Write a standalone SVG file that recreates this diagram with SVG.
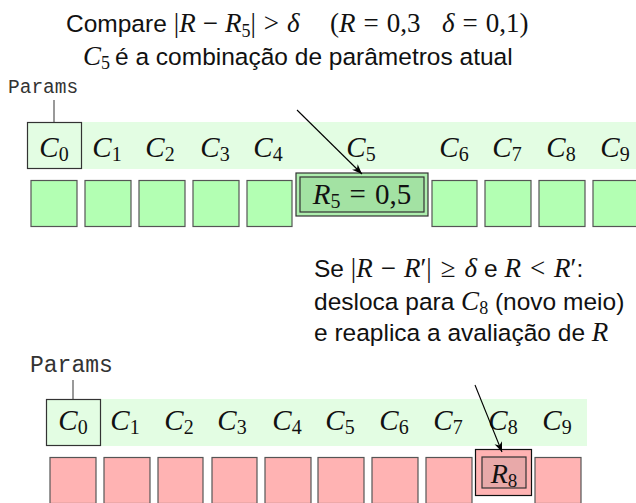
<svg xmlns="http://www.w3.org/2000/svg" width="636" height="503" viewBox="0 0 636 503">
<defs>
<style>
text{white-space:pre}
.sans{font-family:"Liberation Sans",Arial,sans-serif;font-size:24.5px;fill:#111}
.m{font-family:"Liberation Serif","Times New Roman",serif;font-size:27px;fill:#111}
.mi{font-family:"Liberation Serif","Times New Roman",serif;font-size:27px;font-style:italic;fill:#111}
.sub{font-family:"Liberation Serif","Times New Roman",serif;font-size:18px;fill:#111}
.mono{font-family:"Liberation Mono","Courier New",monospace;font-size:19.5px;fill:#333}
.cl{font-family:"Liberation Serif","Times New Roman",serif;font-size:29px;font-style:italic;fill:#111;text-anchor:middle}
.cl tspan.s{font-size:20px;font-style:normal}
.band{fill:#e3fde3}
.cbox{fill:#e3fde3;stroke:#333;stroke-width:1.2}
.gsq{fill:#b3ffb3;stroke:#555;stroke-width:1.2}
.rsq{fill:#ffb3b3;stroke:#555;stroke-width:1.2}
.tick{stroke:#555;stroke-width:1.2}
.conn{stroke:#000;stroke-width:1.1;fill:none;marker-end:url(#arr)}
</style>
<marker id="arr" markerWidth="12" markerHeight="10" refX="10" refY="4" orient="auto" markerUnits="userSpaceOnUse">
<path d="M0,0 L10,4 L0,8 L3,4 z" fill="#000"/>
</marker>
</defs>

<g id="title">
<text y="32"><tspan class="sans" x="66">Compare</tspan><tspan class="m" dx="7">|</tspan><tspan class="mi">R</tspan><tspan class="m" dx="7">−</tspan><tspan class="mi" dx="7">R</tspan><tspan class="sub" dy="5">5</tspan><tspan class="m" dy="-5">|</tspan><tspan class="m" dx="8">&gt;</tspan><tspan class="mi" dx="8">δ</tspan><tspan class="m" x="330">(</tspan><tspan class="mi">R</tspan><tspan class="m" dx="8">=</tspan><tspan class="m" dx="8">0,3</tspan><tspan class="mi" x="442">δ</tspan><tspan class="m" dx="8">=</tspan><tspan class="m" dx="8">0,1)</tspan></text>
<text y="65"><tspan class="mi" x="83">C</tspan><tspan class="sub" dy="4">5</tspan><tspan class="sans" x="115" dy="-4">é a combinação de parâmetros atual</tspan></text>
</g>

<g id="top-row">
<text class="mono" x="8" y="93">Params</text>
<line class="tick" x1="54" y1="100" x2="54" y2="122"/>
<rect class="band" x="27" y="122" width="609" height="47"/>
<g id="top-c0"><rect class="cbox" x="27.5" y="122.5" width="54" height="46"/><text class="cl" x="54" y="157">C<tspan class="s" dy="4">0</tspan></text></g>
<g id="top-c1"><text class="cl" x="107" y="157">C<tspan class="s" dy="4">1</tspan></text></g>
<g id="top-c2"><text class="cl" x="160" y="157">C<tspan class="s" dy="4">2</tspan></text></g>
<g id="top-c3"><text class="cl" x="215" y="157">C<tspan class="s" dy="4">3</tspan></text></g>
<g id="top-c4"><text class="cl" x="268" y="157">C<tspan class="s" dy="4">4</tspan></text></g>
<g id="top-c5"><text class="cl" x="361" y="157">C<tspan class="s" dy="4">5</tspan></text></g>
<g id="top-c6"><text class="cl" x="454" y="157">C<tspan class="s" dy="4">6</tspan></text></g>
<g id="top-c7"><text class="cl" x="507" y="157">C<tspan class="s" dy="4">7</tspan></text></g>
<g id="top-c8"><text class="cl" x="561" y="157">C<tspan class="s" dy="4">8</tspan></text></g>
<g id="top-c9"><text class="cl" x="615" y="157">C<tspan class="s" dy="4">9</tspan></text></g>

<g id="top-r0"><rect class="gsq" x="31" y="180.5" width="46" height="46"/></g>
<g id="top-r1"><rect class="gsq" x="85" y="180.5" width="46" height="46"/></g>
<g id="top-r2"><rect class="gsq" x="139" y="180.5" width="46" height="46"/></g>
<g id="top-r3"><rect class="gsq" x="193" y="180.5" width="46" height="46"/></g>
<g id="top-r4"><rect class="gsq" x="247" y="180.5" width="45" height="46"/></g>
<g id="top-r5">
<rect x="296" y="173" width="132" height="43" fill="#aeeeae" stroke="#333" stroke-width="1.2"/>
<rect x="300" y="177" width="124" height="35" fill="#a3e2a3" stroke="#333" stroke-width="1.2"/>
<text x="362" y="204" text-anchor="middle"><tspan class="mi" style="font-size:29px">R</tspan><tspan class="sub" style="font-size:20px" dy="4">5</tspan><tspan class="m" style="font-size:29px" dy="-4" dx="9">=</tspan><tspan class="m" style="font-size:29px" dx="9">0,5</tspan></text>
</g>
<g id="top-r6"><rect class="gsq" x="432" y="180.5" width="45" height="46"/></g>
<g id="top-r7"><rect class="gsq" x="485" y="180.5" width="46" height="46"/></g>
<g id="top-r8"><rect class="gsq" x="539" y="180.5" width="46" height="46"/></g>
<g id="top-r9"><rect class="gsq" x="593" y="180.5" width="46" height="46"/></g>
</g>

<g id="note">
<text y="277"><tspan class="sans" x="314">Se </tspan><tspan class="m">|</tspan><tspan class="mi">R</tspan><tspan class="m" dx="8">−</tspan><tspan class="mi" dx="8">R</tspan><tspan class="m">′|</tspan><tspan class="m" dx="9">≥</tspan><tspan class="mi" dx="9">δ</tspan><tspan class="sans"> e </tspan><tspan class="mi">R</tspan><tspan class="m" dx="9">&lt;</tspan><tspan class="mi" dx="9">R</tspan><tspan class="m">′</tspan><tspan class="sans">:</tspan></text>
<text y="310"><tspan class="sans" x="314">desloca para </tspan><tspan class="mi">C</tspan><tspan class="sub" dy="4">8</tspan><tspan class="sans" dy="-4"> (novo meio)</tspan></text>
<text y="341"><tspan class="sans" x="314">e reaplica a avaliação de </tspan><tspan class="mi">R</tspan></text>
</g>

<g id="bottom-row">
<text class="mono" x="30" y="372" style="font-size:23px">Params</text>
<line class="tick" x1="73" y1="380" x2="73" y2="399"/>
<rect class="band" x="46" y="399" width="541" height="47"/>
<g id="bot-c0"><rect class="cbox" x="46.5" y="399.5" width="54" height="46"/><text class="cl" x="73" y="430">C<tspan class="s" dy="4">0</tspan></text></g>
<g id="bot-c1"><text class="cl" x="125" y="430">C<tspan class="s" dy="4">1</tspan></text></g>
<g id="bot-c2"><text class="cl" x="179" y="430">C<tspan class="s" dy="4">2</tspan></text></g>
<g id="bot-c3"><text class="cl" x="232" y="430">C<tspan class="s" dy="4">3</tspan></text></g>
<g id="bot-c4"><text class="cl" x="287" y="430">C<tspan class="s" dy="4">4</tspan></text></g>
<g id="bot-c5"><text class="cl" x="340" y="430">C<tspan class="s" dy="4">5</tspan></text></g>
<g id="bot-c6"><text class="cl" x="394" y="430">C<tspan class="s" dy="4">6</tspan></text></g>
<g id="bot-c7"><text class="cl" x="448" y="430">C<tspan class="s" dy="4">7</tspan></text></g>
<g id="bot-c8"><text class="cl" x="503" y="430">C<tspan class="s" dy="4">8</tspan></text></g>
<g id="bot-c9"><text class="cl" x="557" y="430">C<tspan class="s" dy="4">9</tspan></text></g>

<g id="bot-r0"><rect class="rsq" x="50" y="457.5" width="46" height="46"/></g>
<g id="bot-r1"><rect class="rsq" x="104" y="457.5" width="46" height="46"/></g>
<g id="bot-r2"><rect class="rsq" x="158" y="457.5" width="45" height="46"/></g>
<g id="bot-r3"><rect class="rsq" x="212" y="457.5" width="45" height="46"/></g>
<g id="bot-r4"><rect class="rsq" x="265" y="457.5" width="46" height="46"/></g>
<g id="bot-r5"><rect class="rsq" x="318" y="457.5" width="46" height="46"/></g>
<g id="bot-r6"><rect class="rsq" x="372" y="457.5" width="46" height="46"/></g>
<g id="bot-r7"><rect class="rsq" x="426" y="457.5" width="46" height="46"/></g>
<g id="bot-r8">
<rect x="475.5" y="449.5" width="56" height="46" fill="#ffb3b3" stroke="#111" stroke-width="1.2"/>
<rect x="482" y="457" width="44" height="31" fill="#e8a9a9" stroke="#333" stroke-width="1.2"/>
<text x="504" y="483" text-anchor="middle"><tspan class="mi" style="font-size:28px">R</tspan><tspan class="sub" style="font-size:19px" dy="4">8</tspan></text>
</g>
<g id="bot-r9"><rect class="rsq" x="535" y="457.5" width="46" height="46"/></g>
</g>

<g id="connectors">
<line class="conn" x1="297" y1="110" x2="362" y2="174"/>
<line class="conn" x1="475" y1="385" x2="502" y2="452"/>
</g>
</svg>
